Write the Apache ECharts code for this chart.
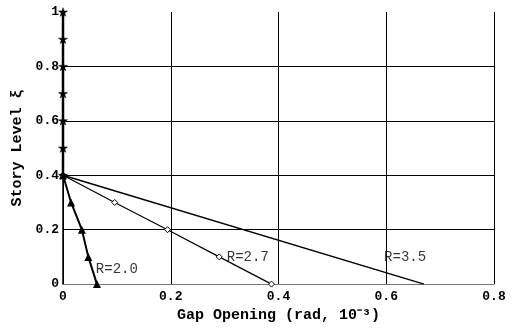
<!DOCTYPE html>
<html><head><meta charset="utf-8">
<script src="https://cdn.jsdelivr.net/npm/echarts@6/dist/echarts.min.js"></script>
<style>html,body{margin:0;padding:0;background:#fff}#c{width:513px;height:328px}</style>
</head><body><div id="c"></div>
<script>
// Upper part shared by all cases (x = 0 from 0.4 to 1.0)
const upperLevels = [0.4, 0.5, 0.6, 0.7, 0.8, 0.9, 1.0];
const upperGap = [0, 0, 0, 0, 0, 0, 0];
// R = 2.0
const r20Levels = [0.4, 0.3, 0.2, 0.1, 0];
const r20Gap = [0, 0.015, 0.035, 0.047, 0.063];
// R = 2.7
const r27Levels = [0.4, 0.3, 0.2, 0.1, 0];
const r27Gap = [0, 0.096, 0.194, 0.29, 0.387];
// R = 3.5
const r35Levels = [0.4, 0];
const r35Gap = [0, 0.67];
// Curve labels
const labelText = ['R=2.0', 'R=2.7', 'R=3.5'];
const labelGap = [0.061, 0.304, 0.596];
const labelLevel = [0.055, 0.1, 0.1];
const xTicks = [0, 0.2, 0.4, 0.6, 0.8];
const yTicks = [0, 0.2, 0.4, 0.6, 0.8, 1];

const zip = (xs, ys) => xs.map((x, i) => [x, ys[i]]);
const starPath = 'path://M50,0 L62,36 L100,36 L69,58 L81,95 L50,72 L19,95 L31,58 L0,36 L38,36 Z';
const font = 'Liberation Mono';

const chart = echarts.init(document.getElementById('c'), null, {renderer: 'canvas'});
chart.setOption({
  animation: false,
  backgroundColor: '#fff',
  grid: {left: 63, right: 19, top: 12, bottom: 40},
  xAxis: {
    type: 'value', min: 0, max: 0.8, interval: 0.2,
    name: 'Gap Opening (rad, 10⁻³)', nameLocation: 'middle', nameGap: 22,
    nameTextStyle: {fontFamily: font, fontWeight: 'bold', fontSize: 15, color: '#000'},
    axisLine: {show: true, lineStyle: {color: '#777', width: 1}},
    axisTick: {show: false},
    axisLabel: {fontFamily: font, fontWeight: 'bold', fontSize: 13, color: '#000', margin: 6,
      formatter: v => String(+v.toFixed(1))},
    splitLine: {show: true, lineStyle: {color: '#000', width: 1}}
  },
  yAxis: {
    type: 'value', min: 0, max: 1, interval: 0.2,
    name: 'Story Level ξ', nameLocation: 'middle', nameGap: 38, nameRotate: 90,
    nameTextStyle: {fontFamily: font, fontWeight: 'bold', fontSize: 15, color: '#000'},
    axisLine: {show: true, lineStyle: {color: '#000', width: 1.5}},
    axisTick: {show: false},
    axisLabel: {fontFamily: font, fontWeight: 'bold', fontSize: 13, color: '#000', margin: 4,
      formatter: v => String(+v.toFixed(1))},
    splitLine: {show: true, lineStyle: {width: 1,
      color: ['#000', '#000', '#000', '#000', '#000', 'rgba(0,0,0,0)']}}
  },
  series: [
    {type: 'line', data: zip(r35Gap, r35Levels), symbol: 'none',
      lineStyle: {color: '#000', width: 1.5}},
    {type: 'line', data: zip(r27Gap, r27Levels), symbol: 'diamond', symbolSize: 6,
      itemStyle: {color: '#fff', borderColor: '#000', borderWidth: 1},
      lineStyle: {color: '#000', width: 1.2}},
    {type: 'line', data: zip(r20Gap, r20Levels), symbol: 'triangle', symbolSize: 8,
      itemStyle: {color: '#000'}, lineStyle: {color: '#000', width: 2}},
    {type: 'line', data: zip(upperGap, upperLevels), symbol: starPath, symbolSize: 9,
      symbolKeepAspect: true,
      itemStyle: {color: '#000', borderColor: '#000', borderWidth: 0.5},
      lineStyle: {color: '#000', width: 2.5}},
    {type: 'scatter', symbolSize: 0, silent: true,
      data: labelText.map((t, i) => ({value: [labelGap[i], labelLevel[i]], name: t})),
      label: {show: true, position: 'right', distance: 0, formatter: p => p.name,
        fontFamily: font, fontSize: 14, color: '#000'}}
  ]
});
</script></body></html>
